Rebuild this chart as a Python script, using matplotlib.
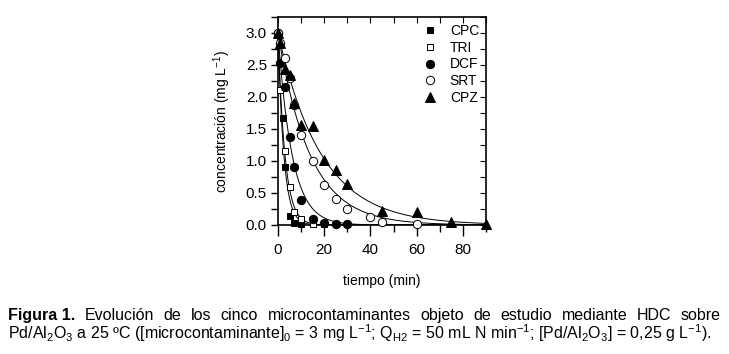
import numpy as np
import matplotlib
matplotlib.use("Agg")
import matplotlib.pyplot as plt
from matplotlib.ticker import MultipleLocator

plt.rcParams['font.family'] = ['Liberation Sans', 'DejaVu Sans']
plt.rcParams['mathtext.fontset'] = 'custom'
plt.rcParams['mathtext.rm'] = 'Liberation Sans'
plt.rcParams['mathtext.it'] = 'Liberation Sans:italic'
plt.rcParams['mathtext.bf'] = 'Liberation Sans:bold'

# ---- data ----
t_cpc = [0, 2, 3, 5, 7, 10, 15, 20, 25, 30]
c_cpc = [3.0, 1.67, 0.90, 0.14, 0.03, 0.02, 0.01, 0.01, 0.01, 0.01]

t_tri = [0, 1, 3, 5, 7, 10, 15]
c_tri = [3.0, 2.11, 1.15, 0.59, 0.21, 0.10, 0.02]

t_dcf = [0, 1, 3, 5, 7, 10, 15, 20, 25, 30]
c_dcf = [3.0, 2.53, 2.16, 1.37, 0.91, 0.39, 0.10, 0.03, 0.02, 0.02]

t_srt = [0, 1, 3, 5, 7, 10, 15, 20, 25, 30, 40, 45, 60]
c_srt = [3.0, 2.84, 2.61, 2.30, 1.88, 1.41, 1.00, 0.63, 0.41, 0.25, 0.13, 0.04, 0.02]

t_cpz = [0, 1, 3, 5, 7, 10, 15, 20, 25, 30, 45, 60, 75, 90]
c_cpz = [3.0, 2.85, 2.43, 2.34, 1.91, 1.56, 1.55, 1.02, 0.86, 0.64, 0.22, 0.21, 0.05, 0.01]

series_names = ['CPC', 'TRI', 'DCF', 'SRT', 'CPZ']
x_ticks_major = [0, 20, 40, 60, 80]
y_ticks_major = [0.0, 0.5, 1.0, 1.5, 2.0, 2.5, 3.0]

series = [
    (t_cpc, c_cpc, 's', 'black', 5.0),
    (t_tri, c_tri, 's', 'white', 5.0),
    (t_dcf, c_dcf, 'o', 'black', 6.0),
    (t_srt, c_srt, 'o', 'white', 6.0),
    (t_cpz, c_cpz, '^', 'black', 6.5),
]

fig = plt.figure(figsize=(7.29, 3.54), dpi=100)
ax = fig.add_axes([278/729, 1-225/354, (486-278)/729, (225-17)/354])


def fit_first_order(t, c):
    t = np.asarray(t, float)
    c = np.asarray(c, float)
    ks = np.linspace(0.005, 2.0, 4000)
    err = [np.sum((c[0]*np.exp(-k*t) - c)**2) for k in ks]
    return c[0], ks[int(np.argmin(err))]


tt = np.linspace(0, 90, 600)
for (t, c, m, fc, ms), name in zip(series, series_names):
    c0, k = fit_first_order(t, c)
    ax.plot(tt, c0*np.exp(-k*tt), color='black', lw=0.7, zorder=2)
    ax.plot(t, c, linestyle='none', marker=m, markerfacecolor=fc,
            markeredgecolor='black', markeredgewidth=0.7, markersize=ms,
            label=name, zorder=3, clip_on=False)

ax.set_xlim(0, 90)
ax.set_ylim(0, 3.25)
ax.set_xticks(x_ticks_major)
ax.xaxis.set_minor_locator(MultipleLocator(10))
ax.set_yticks(y_ticks_major)
ax.yaxis.set_minor_locator(MultipleLocator(0.25))
ax.set_yticklabels([f"{v:.1f}" for v in y_ticks_major])
ax.tick_params(axis='both', which='both', labelsize=11, width=1.0, colors='black')
ax.tick_params(axis='x', which='major', direction='out', length=8, pad=5)
ax.tick_params(axis='x', which='minor', direction='out', length=5)
ax.tick_params(axis='y', which='both', direction='out', length=5, pad=3)
ax.tick_params(top=False, right=False, which='both')
for s in ax.spines.values():
    s.set_linewidth(1.2)

# Inward ticks on top and right via twin axes
axt = ax.twiny()
axt.set_xlim(0, 90)
axt.xaxis.set_major_locator(MultipleLocator(10))
axt.tick_params(axis='x', direction='in', length=4, width=0.8, labeltop=False)
axr = ax.twinx()
axr.set_ylim(0, 3.25)
axr.yaxis.set_major_locator(MultipleLocator(0.25))
axr.tick_params(axis='y', direction='in', length=4, width=0.8, labelright=False)
for a in (axt, axr):
    for s in a.spines.values():
        s.set_visible(False)

ax.set_xlabel('tiempo (min)', fontsize=10, labelpad=12)
ax.set_ylabel(r'concentración (mg $\mathrm{L}^{\mathrm{-1}}$)', fontsize=10, labelpad=9)

leg = ax.legend(loc='upper right', bbox_to_anchor=(1.0, 1.0), frameon=False,
                fontsize=10, handlelength=1.0, handletextpad=0.9,
                labelspacing=0.2, borderaxespad=0.3, borderpad=0.2)
leg.remove()
axr.add_artist(leg)

# ---- caption (justified first line) ----
fig.canvas.draw()
renderer = fig.canvas.get_renderer()
fs = 11.5
x_left, x_right = 8/729, 721/729
y1 = 1 - 320/354
y2 = 1 - 339/354
words1 = [(r'Figura 1.', 'bold')] + [(w, 'normal') for w in
          'Evolución de los cinco microcontaminantes objeto de estudio mediante HDC sobre'.split()]
tobjs = []
widths = []
for w, wt in words1:
    t_ = fig.text(0, y1, w, fontsize=fs, fontweight=wt, va='baseline', ha='left')
    bb = t_.get_window_extent(renderer)
    tobjs.append(t_)
    widths.append(bb.width / fig.bbox.width)
gap = (x_right - x_left - sum(widths)) / (len(words1) - 1)
x = x_left
for t_, wdt in zip(tobjs, widths):
    t_.set_x(x)
    x += wdt + gap

line2 = (r'Pd/Al$_{\mathrm{2}}$O$_{\mathrm{3}}$ a 25 ºC ([microcontaminante$]_{\mathrm{0}}$ = 3 mg '
         r'$\mathrm{L}^{\mathrm{-1}}$; Q$_{\mathrm{H2}}$ = 50 mL N min$^{\mathrm{-1}}$; '
         r'[Pd/Al$_{\mathrm{2}}$O$_{\mathrm{3}}$] = 0,25 g $\mathrm{L}^{\mathrm{-1}}$).')
fig.text(x_left, y2, line2, fontsize=fs, va='baseline', ha='left')

fig.savefig('out.png', dpi=100)
